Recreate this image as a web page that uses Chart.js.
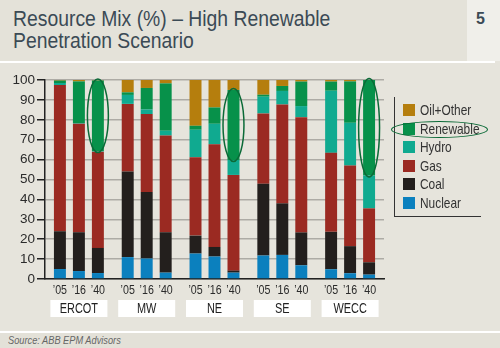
<!DOCTYPE html>
<html>
<head>
<meta charset="utf-8">
<script src="https://cdn.jsdelivr.net/npm/chart.js@4.4.1/dist/chart.umd.min.js"></script>
<style>
  body{margin:0;width:500px;height:348px;background:#e6e4dc;position:relative;overflow:hidden;
       font-family:'Liberation Sans',Arial,sans-serif;color:#333}
  #head{position:absolute;left:0;top:0;width:500px;height:61px;background:#e4e2d9}
  #title{position:absolute;left:13px;top:8px;font-size:21.5px;line-height:22px;color:#3b4a55;
         white-space:nowrap;transform:scaleX(0.9);transform-origin:0 0}
  #pg{position:absolute;left:467px;top:0;width:33px;height:61px;background:#f0efea}
  #pg span{position:absolute;left:9px;top:11px;font:bold 16px/16px 'Liberation Sans',Arial,sans-serif;color:#3b4a55}
  #rule1{position:absolute;left:0;top:61px;width:495px;height:2px;background:#fff}
  #rule2{position:absolute;left:0;top:331px;width:500px;height:2px;background:#fff}
  #foot{position:absolute;left:0;top:333px;width:500px;height:15px;background:#e3e1d8}
  #foot span{position:absolute;left:8px;top:1px;font:italic 10.5px/12px 'Liberation Sans',Arial,sans-serif;color:#666;
             transform:scaleX(0.88);transform-origin:0 0;white-space:nowrap}
  #c{position:absolute;left:0;top:0}
  #legend{position:absolute;left:394px;top:97px;width:86px;height:119px;
          border-left:1.5px solid #333;border-bottom:1.5px solid #333}
  .item{position:absolute;left:8px;height:14px;font-size:14.5px;line-height:14px;white-space:nowrap}
  .item i{position:absolute;left:0;top:1px;width:12px;height:12px}
  .item b{position:absolute;left:17px;top:0;font-weight:normal;transform:scaleX(0.82);transform-origin:0 0}
  #ring{position:absolute;left:391px;top:121px;width:95px;height:15px;border:1.5px solid #0b6a37;border-radius:50%}
</style>
</head>
<body>
<div id="head"></div>
<div id="title">Resource Mix (%) – High Renewable<br>Penetration Scenario</div>
<div id="pg"><span>5</span></div>
<div id="rule1"></div>
<canvas id="c" width="500" height="348"></canvas>
<div id="legend"></div>
<div id="ring"></div>
<div id="rule2"></div>
<div id="foot"><span>Source: ABB EPM Advisors</span></div>
<script>
const regions = ["ERCOT", "MW", "NE", "SE", "WECC"];
const years   = ["’05", "’16", "’40"];

// values per region, in year order '05 '16 '40
const nuclear   = [5, 4, 3,      11, 10.3, 3.2,   12.8, 11.3, 3.2,  11.8, 12.1, 6.9,  4.9, 2.9, 2.2];
const coal      = [19, 19.5, 12.6, 43, 33.4, 20.3, 9, 4.8, 1,       36.1, 25.9, 16.5, 18.8, 13.6, 6.2];
const gas       = [73.5, 54.5, 48.4, 34, 39.2, 48.6, 39.4, 51.6, 48.1, 35.3, 49.7, 57.9, 39.7, 40.5, 27.1];
const hydro     = [1, 0.3, 0.3,  4.5, 2.3, 2.4,   13.8, 10.3, 7.5,  8.4, 6.8, 5.6,    31.2, 21.5, 16.5];
const renewable = [1.2, 21, 35.5, 1.3, 10.8, 23.8, 2, 8.2, 35.2,    1, 2.5, 12.3,     4.6, 20.8, 48];
const oilOther  = [0.3, 0.7, 0.2, 6.2, 4, 1.7,    23, 13.8, 5,      7.4, 3, 0.8,      0.8, 0.7, 0];

const highlight = ["ERCOT", "NE", "WECC"];   // circled renewable share in '40

const fuels = [
  {name:"Nuclear",   values:nuclear,   color:"#0b80be"},
  {name:"Coal",      values:coal,      color:"#231f1d"},
  {name:"Gas",       values:gas,       color:"#9b2a22"},
  {name:"Hydro",     values:hydro,     color:"#10aa90"},
  {name:"Renewable", values:renewable, color:"#07914a"},
  {name:"Oil+Other", values:oilOther,  color:"#b57e0d"}
];

/* legend, top row first */
const legendEl = document.getElementById("legend");
fuels.slice().reverse().forEach((f, k) => {
  const d = document.createElement("div");
  d.className = "item";
  d.style.top = (6 + k * 18.6) + "px";
  d.innerHTML = `<i style="background:${f.color}"></i><b>${f.name}</b>`;
  legendEl.appendChild(d);
});

const datasets = years.flatMap((yr, j) => fuels.map(f => ({
  label: f.name,
  stack: yr,
  data: regions.map((r, i) => f.values[i * years.length + j]),
  backgroundColor: f.color,
  borderWidth: 0,
  categoryPercentage: 0.84,
  barPercentage: 0.63
})));

// narrow text: the original uses a condensed face
function narrowText(ctx, txt, x, y, sx) {
  ctx.save();
  ctx.translate(x, y);
  ctx.scale(sx, 1);
  ctx.fillText(txt, 0, 0);
  ctx.restore();
}

/* year labels, region boxes, highlight ellipses */
const decor = {
  id: "decor",
  afterDatasetsDraw(chart) {
    const {ctx, scales:{x}} = chart;
    ctx.save();
    ctx.textAlign = "center";
    ctx.textBaseline = "middle";
    ctx.font = "13px 'Liberation Sans', Arial, sans-serif";
    ctx.fillStyle = "#2b2b2b";
    years.forEach((yr, j) => {
      chart.getDatasetMeta(j * fuels.length).data.forEach(bar => narrowText(ctx, yr, bar.x, 290, 0.82));
    });
    ctx.font = "14px 'Liberation Sans', Arial, sans-serif";
    regions.forEach((r, i) => {
      const cx = x.getPixelForValue(i);
      ctx.fillStyle = "#fff";
      ctx.fillRect(cx - 28.5, 300, 57, 17);
      ctx.fillStyle = "#222";
      narrowText(ctx, r, cx, 309, 0.78);
    });
    const meta = chart.getDatasetMeta((years.length - 1) * fuels.length + 4);
    ctx.strokeStyle = "#0b6a37";
    ctx.lineWidth = 1.5;
    highlight.forEach(r => {
      const el = meta.data[regions.indexOf(r)];
      const p = el.getProps(["x", "y", "base", "width"], true);
      ctx.beginPath();
      ctx.ellipse(p.x, (p.y + p.base) / 2, p.width / 2 + 4.5, (p.base - p.y) / 2 + 1.5, 0, 0, Math.PI * 2);
      ctx.stroke();
    });
    ctx.restore();
  }
};

new Chart(document.getElementById("c"), {
  type: "bar",
  data: {labels: regions, datasets},
  options: {
    responsive: false,
    animation: false,
    layout: {padding: {left: 0, top: 80, right: 116, bottom: 69}},
    plugins: {legend: {display: false}, tooltip: {enabled: false}},
    scales: {
      x: {
        stacked: true,
        ticks: {display: false},
        grid: {display: false},
        border: {color: "#222", width: 1.5},
        afterFit(s) { s.height = 0; }
      },
      y: {
        stacked: true,
        min: 0, max: 100,
        ticks: {stepSize: 10, padding: 2, color: "#2b2b2b",
                font: {family: "'Liberation Sans', Arial, sans-serif", size: 13.5}},
        grid: {color: "#adaba5", lineWidth: 1.5, tickLength: 8, tickColor: "#222"},
        border: {color: "#222", width: 1.5},
        afterFit(s) { s.width = 45; }
      }
    }
  },
  plugins: [decor]
});
</script>
</body>
</html>
